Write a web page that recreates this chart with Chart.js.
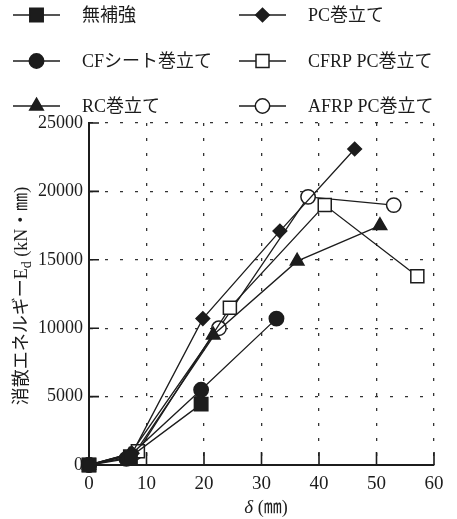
<!DOCTYPE html>
<html>
<head>
<meta charset="utf-8">
<script src="https://cdn.jsdelivr.net/npm/chart.js@4.4.1/dist/chart.umd.min.js"></script>
<style>
  html, body { margin: 0; padding: 0; background: #fff; }
  canvas { display: block; }
</style>
</head>
<body>
<canvas id="energyChart" width="457" height="519"></canvas>
<script>
// Dissipated energy E_d (kN·mm) versus displacement δ (mm) for each retrofit type
const seriesNames = ['無補強', 'PC巻立て', 'CFシート巻立て', 'CFRP PC巻立て', 'RC巻立て', 'AFRP PC巻立て'];

const deltaUnreinforced = [0, 7.2, 19.5];
const energyUnreinforced = [0, 600, 4450];

const deltaPC = [0, 7.5, 19.8, 33.2, 46.2];
const energyPC = [0, 850, 10700, 17100, 23100];

const deltaCFSheet = [0, 6.5, 19.5, 32.6];
const energyCFSheet = [0, 450, 5500, 10700];

const deltaCFRP = [0, 8.5, 24.5, 41.0, 57.1];
const energyCFRP = [0, 1000, 11500, 19000, 13800];

const deltaRC = [0, 7.0, 21.6, 36.2, 50.6];
const energyRC = [0, 700, 9500, 14900, 17500];

const deltaAFRP = [0, 8.0, 22.6, 38.1, 53.0];
const energyAFRP = [0, 900, 10000, 19600, 19000];

const xTickValues = [0, 10, 20, 30, 40, 50, 60];
const yTickValues = [0, 5000, 10000, 15000, 20000, 25000];

const INK = '#1c1c1c';
const SERIF = "'Liberation Serif', 'DejaVu Serif', 'Noto Sans CJK JP', serif";
const LEGEND_FONT = "18px 'Liberation Serif', 'Noto Sans CJK JP', serif";

function toPoints(xs, ys) {
  return xs.map((x, i) => ({ x: x, y: ys[i] }));
}

const markerStyles = [
  { pointStyle: 'rect',     radius: 9.5, fill: INK },
  { pointStyle: 'rectRot',  radius: 6.8, fill: INK },
  { pointStyle: 'circle',   radius: 7.2, fill: INK },
  { pointStyle: 'rect',     radius: 9.2, fill: '#fff' },
  { pointStyle: 'triangle', radius: 7.8, fill: INK },
  { pointStyle: 'circle',   radius: 7.2, fill: '#fff' }
];

const seriesData = [
  toPoints(deltaUnreinforced, energyUnreinforced),
  toPoints(deltaPC, energyPC),
  toPoints(deltaCFSheet, energyCFSheet),
  toPoints(deltaCFRP, energyCFRP),
  toPoints(deltaRC, energyRC),
  toPoints(deltaAFRP, energyAFRP)
];

const datasets = seriesNames.map((name, i) => ({
  label: name,
  data: seriesData[i],
  showLine: true,
  clip: false,
  borderColor: INK,
  borderWidth: 1.3,
  pointStyle: markerStyles[i].pointStyle,
  pointRadius: markerStyles[i].radius,
  pointHoverRadius: markerStyles[i].radius,
  pointBackgroundColor: markerStyles[i].fill,
  pointBorderColor: INK,
  pointBorderWidth: 1.5,
  tension: 0
}));

// Two-column legend above the plot
const legendPlugin = {
  id: 'twoColumnLegend',
  afterDraw(chart) {
    const ctx = chart.ctx;
    const rowsY = [15, 61, 106];
    const lineX = [13, 239];
    const textX = [82, 308];
    chart.data.datasets.forEach((ds, i) => {
      const col = i % 2;
      const row = Math.floor(i / 2);
      const y = rowsY[row];
      ctx.save();
      ctx.strokeStyle = INK;
      ctx.lineWidth = 1.3;
      ctx.beginPath();
      ctx.moveTo(lineX[col], y);
      ctx.lineTo(lineX[col] + 47, y);
      ctx.stroke();
      ctx.fillStyle = ds.pointBackgroundColor;
      ctx.strokeStyle = INK;
      ctx.lineWidth = 1.5;
      Chart.helpers.drawPoint(ctx, {
        pointStyle: ds.pointStyle,
        radius: ds.pointRadius,
        rotation: 0,
        borderWidth: 1.5
      }, lineX[col] + 23.5, y);
      ctx.fillStyle = INK;
      ctx.font = LEGEND_FONT;
      ctx.textBaseline = 'middle';
      ctx.textAlign = 'left';
      ctx.fillText(ds.label, textX[col], y + 1);
      ctx.restore();
    });
  }
};

// Inward tick marks and axis titles
const axisDecorPlugin = {
  id: 'axisDecor',
  afterDraw(chart) {
    const ctx = chart.ctx;
    const area = chart.chartArea;
    const xs = chart.scales.x;
    const ys = chart.scales.y;
    ctx.save();
    ctx.strokeStyle = INK;
    ctx.lineWidth = 1.6;
    ctx.beginPath();
    xTickValues.forEach(v => {
      if (v === 0) return;
      const px = xs.getPixelForValue(v);
      ctx.moveTo(px, area.bottom);
      ctx.lineTo(px, area.bottom - 13);
    });
    yTickValues.forEach(v => {
      if (v === 0) return;
      const py = ys.getPixelForValue(v);
      ctx.moveTo(area.left, py);
      ctx.lineTo(area.left + 10, py);
    });
    ctx.stroke();

    // y-axis title with subscript, rotated
    ctx.fillStyle = INK;
    ctx.textBaseline = 'middle';
    ctx.textAlign = 'left';
    const mainFont = "18px 'Liberation Serif', 'Noto Sans CJK JP', serif";
    const subFont = "14px 'Liberation Serif', 'Noto Sans CJK JP', serif";
    const parts = [
      { text: '消散エネルギーE', font: mainFont, dy: 0 },
      { text: 'd', font: subFont, dy: 5 },
      { text: ' (kN・㎜)', font: mainFont, dy: 0 }
    ];
    let total = 0;
    parts.forEach(p => { ctx.font = p.font; p.w = ctx.measureText(p.text).width; total += p.w; });
    ctx.translate(22, 296);
    ctx.rotate(-Math.PI / 2);
    let cx = -total / 2;
    parts.forEach(p => {
      ctx.font = p.font;
      ctx.fillText(p.text, cx, p.dy);
      cx += p.w;
    });
    ctx.restore();

    // x-axis title
    ctx.save();
    ctx.fillStyle = INK;
    ctx.textBaseline = 'middle';
    ctx.textAlign = 'left';
    const xParts = [
      { text: 'δ', font: "italic 19px " + SERIF },
      { text: ' (㎜)', font: "18px 'Liberation Serif', 'Noto Sans CJK JP', serif" }
    ];
    let xw = 0;
    xParts.forEach(p => { ctx.font = p.font; p.w = ctx.measureText(p.text).width; xw += p.w; });
    let sx = 266 - xw / 2;
    xParts.forEach(p => {
      ctx.font = p.font;
      ctx.fillText(p.text, sx, 508);
      sx += p.w;
    });
    ctx.restore();
  }
};

const gridStyle = {
  color: '#333',
  lineWidth: 1.3,
  drawTicks: false
};

new Chart(document.getElementById('energyChart'), {
  type: 'line',
  data: { datasets: datasets },
  options: {
    responsive: false,
    devicePixelRatio: 1,
    animation: false,
    events: [],
    layout: { padding: { left: 0, right: 23, top: 123, bottom: 0 } },
    plugins: {
      legend: { display: false },
      tooltip: { enabled: false },
      title: { display: false }
    },
    scales: {
      x: {
        type: 'linear',
        min: 0,
        max: 60,
        afterFit(scale) { scale.height = 54; },
        afterBuildTicks(scale) { scale.ticks = xTickValues.map(v => ({ value: v })); },
        grid: gridStyle,
        border: { display: true, color: INK, width: 2, dash: [3, 12] },
        ticks: {
          color: INK,
          padding: 8,
          maxRotation: 0,
          font: { family: SERIF, size: 19 }
        }
      },
      y: {
        type: 'linear',
        min: 0,
        max: 25000,
        afterFit(scale) { scale.width = 89; },
        afterBuildTicks(scale) { scale.ticks = yTickValues.map(v => ({ value: v })); },
        grid: gridStyle,
        border: { display: true, color: INK, width: 2, dash: [3, 12] },
        ticks: {
          color: INK,
          padding: 6,
          font: { family: SERIF, size: 18 },
          callback: v => String(v)
        }
      }
    }
  },
  plugins: [legendPlugin, axisDecorPlugin]
});
</script>
</body>
</html>
